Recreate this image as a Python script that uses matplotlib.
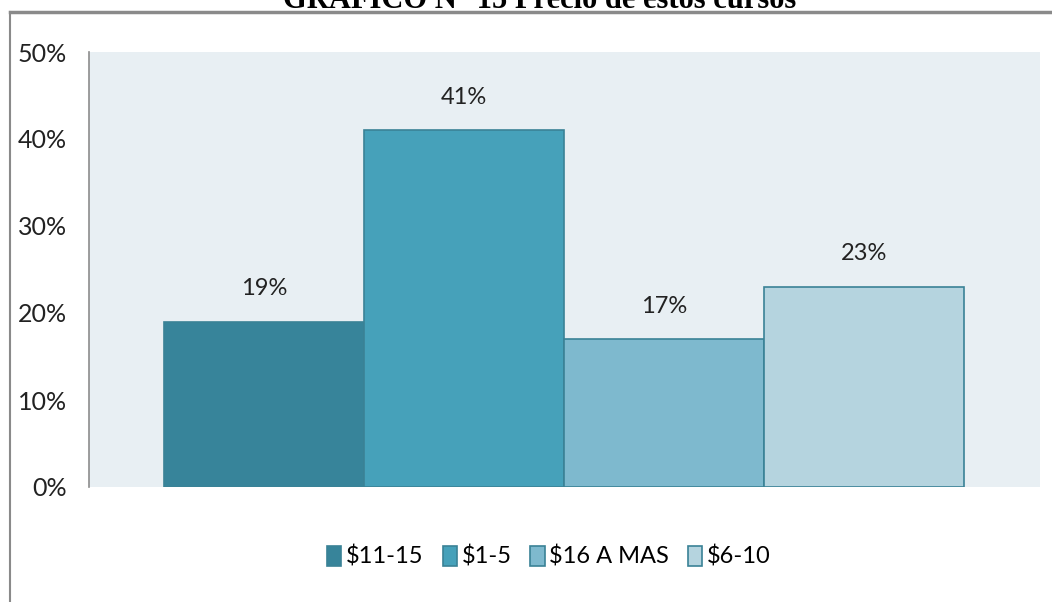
import matplotlib.pyplot as plt
from matplotlib.lines import Line2D
import numpy as np

# data
categories = ["$11-15", "$1-5", "$16 A MAS", "$6-10"]
values = [19, 41, 17, 23]
colors = ["#37849A", "#46A1BA", "#7EB9CE", "#B5D4DF"]
yticks = [0, 10, 20, 30, 40, 50]

plt.rcParams['font.family'] = ['Lato', 'DejaVu Sans']

W, H = 1052, 602
fig = plt.figure(figsize=(W / 100, H / 100), dpi=100)

# plot area in pixels
x0, x1, ytop, ybot = 89, 1040, 52, 487
ax = fig.add_axes([x0 / W, (H - ybot) / H, (x1 - x0) / W, (ybot - ytop) / H])
ax.set_facecolor("#E8EFF3")

xs = np.arange(len(values))
for i in range(len(values)):
    ax.bar(xs[i], values[i], width=1.0, color=colors[i], edgecolor="#3A8296",
           linewidth=1.2, label=categories[i], zorder=2)
    ax.text(xs[i], values[i] + 3.8, f"{values[i]}%", ha="center", va="center",
            fontsize=17, color="#222222")

ax.set_xlim(-0.875, 3.88)
ax.set_ylim(0, 50)
ax.set_yticks(yticks)
ax.set_yticklabels([f"{t}%" for t in yticks], fontsize=18, color="#222222")
ax.set_xticks([])
ax.tick_params(axis="y", length=0, pad=16)
for s in ["top", "right", "bottom"]:
    ax.spines[s].set_visible(False)
ax.spines["left"].set_color("#8C8C8C")
ax.spines["left"].set_linewidth(1.2)

leg = fig.legend(loc="center", bbox_to_anchor=(549 / W, (H - 557) / H), ncol=4,
                 frameon=False, fontsize=17, handlelength=0.6, handleheight=0.9,
                 handletextpad=0.2, columnspacing=0.8)

# outer border box (cut by the image edge)
fig.add_artist(Line2D([10 / W, 1.0], [(H - 12) / H, (H - 12) / H], color="#8A8A8A", lw=2.5))
fig.add_artist(Line2D([10 / W, 10 / W], [0, (H - 12) / H], color="#8A8A8A", lw=1.5))

# title, partly outside the image as in the reference
fig.text(540 / W, (H - 8) / H, "GRAFICO N° 15 Precio de estos cursos", ha="center",
         va="baseline", fontsize=22, fontweight="bold", family="Liberation Serif")

fig.savefig("out.png", dpi=100)
